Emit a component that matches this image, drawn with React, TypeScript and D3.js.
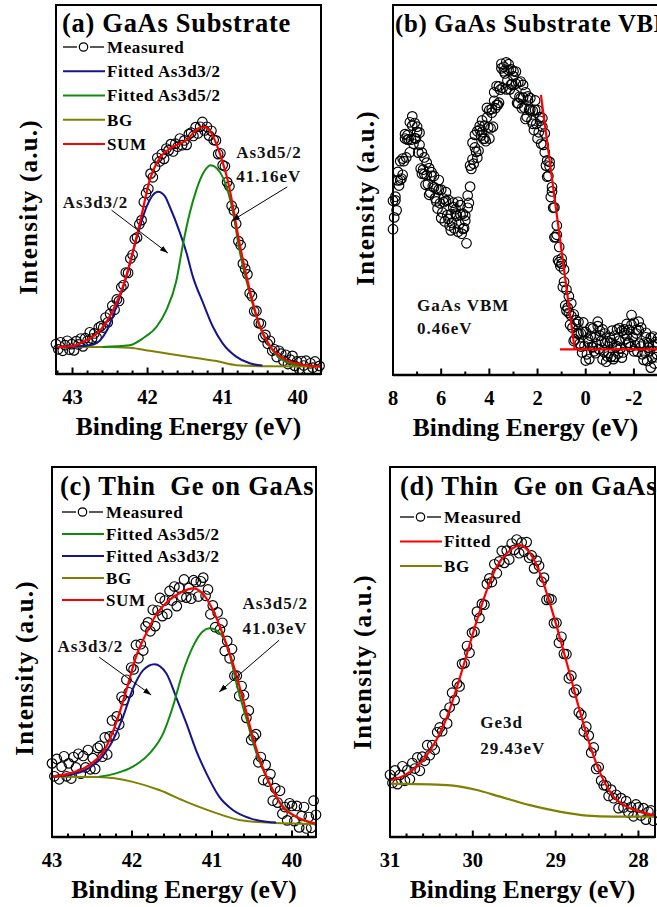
import React from "react";
import * as d3 from "d3";

type Pt = [number, number];

const FONT = "'Liberation Serif', 'Times New Roman', Times, serif";
const RED = "#ff0000";
const BLUE = "#14148c";
const GREEN = "#0f8a0f";
const OLIVE = "#808000";
const INK = "#111111";

// ---------- (a) GaAs substrate, As 3d core level ----------
const aTicks = [43, 42, 41, 40];
const aStart = 43.22;
const aStep = 0.03;
const aMeasured = [
  8.1, 6.7, 8.6, 6.3, 7.8, 9.0, 6.6, 8.1, 6.4, 8.9,
  8.0, 9.6, 7.5, 9.7, 9.0, 11.3, 9.6, 11.0, 9.9, 12.6,
  13.0, 12.6, 15.3, 14.0, 16.3, 18.5, 17.4, 20.2, 19.8, 23.5,
  24.1, 27.5, 27.4, 31.3, 32.3, 36.6, 37.0, 40.6, 41.7, 46.6,
  49.0, 50.2, 54.3, 53.3, 56.1, 58.6, 57.6, 59.6, 58.3, 61.1,
  60.6, 62.3, 60.3, 62.4, 61.6, 63.8, 62.0, 63.3, 62.1, 65.0,
  65.4, 64.5, 66.9, 65.2, 67.0, 68.3, 66.0, 67.0, 64.6, 65.9,
  63.4, 63.3, 59.6, 59.8, 56.6, 56.3, 52.0, 50.9, 45.6, 44.3,
  40.7, 36.0, 34.9, 29.9, 28.5, 27.0, 21.9, 21.1, 17.0, 17.1,
  13.8, 13.6, 10.0, 10.6, 8.2, 9.0, 6.3, 6.7, 4.6, 6.3,
  5.5, 3.6, 5.2, 2.7, 3.9, 4.9, 2.2, 3.4, 1.3, 3.5,
  2.3, 3.6, 1.2, 2.9, 1.7, 3.4, 1.2, 2.2,
];
const aPeak52 = 41.16;
const aSum: Pt[] = [
  [43.22, 7.3], [43.0, 7.6], [42.86, 8.7], [42.63, 11.9], [42.46, 17.3],
  [42.33, 23.6], [42.2, 32.8], [42.1, 41.2], [41.97, 52.6], [41.84, 58.5],
  [41.71, 61.0], [41.48, 63.4], [41.31, 66.7], [41.24, 66.9], [41.17, 65.9],
  [41.04, 59.9], [40.91, 50.4], [40.86, 45.0], [40.78, 36.0], [40.64, 22.8],
  [40.51, 13.3], [40.38, 7.9], [40.2, 4.3], [39.98, 2.7], [39.7, 2.0],
];
const aAs3d32: Pt[] = [
  [43.22, 7.3], [43.0, 7.4], [42.72, 8.0], [42.55, 11.5], [42.41, 18.5],
  [42.28, 26.5], [42.15, 36.5], [42.01, 45.5], [41.93, 48.5], [41.86, 49.4],
  [41.77, 48.2], [41.71, 45.6], [41.57, 38.3], [41.48, 32.7], [41.4, 26.6],
  [41.26, 19.2], [41.13, 12.8], [41.0, 8.3], [40.82, 4.7], [40.64, 2.9],
  [40.47, 2.3],
];
const aAs3d52: Pt[] = [
  [42.6, 7.35], [42.24, 7.8], [42.06, 9.7], [41.88, 12.8], [41.75, 17.3],
  [41.62, 25.0], [41.53, 35.0], [41.44, 43.5], [41.35, 49.9], [41.26, 54.4],
  [aPeak52, 56.6], [41.04, 54.8], [40.95, 50.8], [40.86, 43.6], [40.78, 34.0],
  [40.64, 22.0], [40.51, 13.0], [40.38, 7.7], [40.24, 4.3], [40.11, 2.9],
  [39.98, 2.4],
];
const aBG: Pt[] = [
  [43.22, 7.3], [42.55, 7.3], [42.24, 7.1], [41.97, 6.3], [41.53, 4.9],
  [41.08, 3.5], [40.82, 2.4], [40.42, 2.1], [39.7, 2.0],
];

// ---------- (b) GaAs substrate, valence band (two sweeps) ----------
const bTicks = [8, 6, 4, 2, 0, -2];
const bStart = 8;
const bStep = 0.05;
const bMeasured = [
  47.1, 42.6, 47.2, 44.5, 52.6, 51.2, 57.8, 53.1, 58.5, 57.8,
  63.9, 58.8, 64.8, 63.7, 68.3, 63.6, 67.4, 62.5, 68.1, 63.9,
  67.1, 60.1, 62.2, 55.8, 60.1, 55.5, 58.8, 51.4, 54.0, 51.6,
  55.9, 49.3, 53.8, 51.0, 53.8, 47.8, 50.4, 45.0, 50.1, 46.4,
  50.1, 43.9, 46.7, 41.5, 47.1, 43.2, 47.3, 40.4, 43.5, 41.1,
  45.4, 39.6, 44.8, 43.0, 46.8, 40.8, 43.4, 38.2, 43.6, 39.7,
  43.1, 35.6, 45.2, 46.5, 56.6, 55.7, 62.8, 57.1, 61.5, 60.3,
  65.9, 60.6, 66.3, 64.7, 68.8, 63.8, 67.4, 63.2, 69.6, 66.9,
  71.6, 66.7, 70.9, 67.1, 74.1, 72.1, 78.1, 73.0, 78.0, 77.1,
  82.9, 77.6, 83.3, 81.5, 84.5, 79.6, 82.4, 77.2, 82.6, 78.7,
  82.1, 75.9, 78.7, 73.5, 79.1, 75.2, 79.3, 72.1, 75.0, 72.3,
  76.4, 69.8, 74.3, 71.7, 74.8, 68.8, 71.4, 66.2, 71.6, 67.9,
  71.6, 65.6, 68.7, 62.5, 67.1, 62.2, 65.3, 56.6, 58.0, 53.8,
  56.4, 48.1, 50.8, 45.2, 45.3, 37.3, 37.9, 31.0, 34.6, 29.4,
  31.5, 23.8, 25.2, 18.8, 23.1, 18.2, 21.3, 13.6, 16.0, 12.8,
  16.4, 9.6, 13.8, 11.2, 14.3, 8.5, 11.2, 6.1, 11.6, 7.9,
  11.6, 5.6, 8.8, 4.3, 10.6, 7.6, 12.6, 6.4, 10.3, 8.3,
  13.2, 7.0, 11.8, 9.2, 12.3, 6.2, 8.7, 3.6, 9.1, 5.9,
  10.1, 4.9, 8.7, 4.3, 10.6, 7.5, 12.3, 5.8, 9.3, 7.2,
  11.9, 6.1, 11.3, 9.7, 13.8, 8.7, 12.2, 7.6, 13.6, 10.2,
  14.1, 8.1, 11.2, 6.3, 12.1, 8.5, 12.8, 5.6, 8.5, 6.0,
  10.2, 3.8, 8.6, 6.5, 10.1, 4.7, 7.9, 3.1, 8.9, 5.7,
  9.9,
];
const bStart2 = 8;
const bStep2 = 0.1;
const bMeasured2 = [
  39.4, 48.2, 54.9, 52.7, 54.1, 65.1, 63.6, 60.2, 69.9, 64.0,
  65.7, 65.5, 54.4, 54.3, 57.4, 48.7, 54.8, 50.7, 46.9, 52.7,
  42.4, 47.7, 49.4, 42.2, 39.1, 46.6, 43.6, 38.7, 45.9, 39.5,
  41.7, 48.5, 50.9, 58.3, 64.9, 58.7, 67.3, 65.7, 63.9, 72.2,
  63.9, 71.9, 76.4, 73.0, 73.6, 84.1, 82.1, 77.2, 84.0, 78.5,
  80.7, 82.0, 73.4, 74.8, 78.4, 69.2, 75.3, 71.7, 67.9, 74.2,
  63.9, 69.7, 69.4, 60.2, 53.6, 57.6, 49.6, 37.2, 40.4, 30.5,
  30.1, 28.5, 17.4, 16.8, 19.4, 9.2, 14.8, 11.2, 7.7, 14.2,
  3.9, 9.8, 12.9, 7.5, 5.9, 14.4, 10.6, 4.2, 11.2, 5.0,
  8.7, 12.0, 4.9, 7.8, 12.7, 4.7, 12.3, 10.7, 8.7, 16.2,
  6.4, 12.2, 14.4, 7.7, 4.1, 11.4, 7.4, 2.0, 10.4, 4.8,
  8.5,
];
const bVBM = 0.46;
const bEdge: Pt[] = [[1.86, 75.7], [bVBM, 6.9]];
const bBase: Pt[] = [[1.07, 6.9], [-3.0, 6.9]];

// ---------- (c) thin Ge on GaAs, As 3d core level ----------
const cTicks = [43, 42, 41, 40];
const cStart = 43.0;
const cStep = 0.03;
const cMeasured = [
  19.9, 16.4, 21.1, 15.6, 19.0, 21.8, 16.4, 19.9, 15.8, 21.6,
  18.8, 22.5, 17.1, 21.9, 18.8, 23.5, 18.3, 21.3, 18.4, 24.1,
  24.6, 21.7, 26.9, 22.3, 27.2, 31.5, 27.5, 32.6, 30.4, 37.9,
  37.0, 42.5, 39.1, 45.8, 45.3, 51.9, 48.3, 52.1, 50.4, 56.9,
  58.0, 55.6, 61.4, 57.0, 61.2, 64.6, 59.7, 63.9, 60.3, 66.5,
  63.9, 67.7, 62.4, 67.4, 65.0, 69.6, 64.7, 67.3, 64.4, 69.4,
  68.9, 65.0, 69.1, 70.1, 65.2, 66.9, 60.2, 62.6, 56.7, 60.7,
  56.1, 57.9, 50.3, 53.0, 48.3, 50.8, 43.6, 43.6, 38.1, 40.8,
  38.3, 32.2, 34.2, 26.2, 27.1, 27.8, 20.2, 21.6, 15.4, 19.5,
  15.0, 17.0, 9.8, 13.2, 9.3, 12.5, 6.3, 8.1, 4.5, 9.1,
  8.4, 4.3, 8.4, 2.6, 5.7, 8.1, 2.3, 5.4, 2.5, 9.8,
  6.0,
];
const cPeak52 = 41.03;
const cSum: Pt[] = [
  [43.0, 16.3], [42.78, 17.2], [42.53, 19.5], [42.32, 24.4], [42.2, 30.7],
  [42.07, 39.7], [41.95, 48.7], [41.82, 55.1], [41.7, 60.0], [41.53, 64.1],
  [41.37, 66.3], [41.24, 67.2], [41.12, 65.9], [40.99, 61.4], [40.87, 55.1],
  [40.74, 47.0], [40.61, 37.0], [40.49, 27.1], [40.37, 19.0], [40.24, 12.7],
  [40.12, 8.2], [39.95, 5.5], [39.7, 3.6],
];
const cAs3d52: Pt[] = [
  [42.41, 16.3], [42.2, 17.2], [41.99, 19.0], [41.78, 22.6], [41.61, 28.0],
  [41.49, 35.2], [41.37, 44.2], [41.24, 51.4], [41.12, 55.5], [cPeak52, 56.4],
  [40.91, 55.3], [40.78, 49.5], [40.7, 42.0], [40.57, 32.0], [40.45, 23.0],
  [40.32, 16.2], [40.16, 9.6], [39.99, 6.0], [39.72, 3.6],
];
const cAs3d32: Pt[] = [
  [43.0, 16.3], [42.75, 16.9], [42.55, 18.5], [42.4, 21.0], [42.28, 24.5],
  [42.12, 32.0], [41.99, 40.0], [41.86, 45.1], [41.72, 46.7], [41.57, 44.2],
  [41.45, 37.9], [41.32, 30.7], [41.2, 23.5], [41.07, 17.2], [40.91, 10.9],
  [40.74, 7.3], [40.53, 5.1], [40.32, 4.1], [40.2, 3.9],
];
const cBG: Pt[] = [
  [43.0, 16.3], [42.41, 16.2], [41.99, 14.9], [41.66, 12.7], [41.32, 9.5],
  [40.99, 6.8], [40.66, 4.6], [40.32, 3.9], [39.7, 3.5],
];

// ---------- (d) thin Ge on GaAs, Ge 3d core level ----------
const dTicks = [31, 30, 29, 28];
const dStart = 31.0;
const dStep = 0.03;
const dMeasured = [
  16.8, 14.6, 18.0, 14.3, 16.8, 19.1, 15.2, 18.1, 15.6, 20.0,
  18.5, 21.5, 17.9, 21.7, 20.6, 24.8, 22.1, 24.8, 23.6, 28.3,
  29.6, 28.6, 33.2, 30.7, 35.0, 39.0, 37.0, 41.5, 40.7, 46.8,
  47.0, 51.6, 49.8, 55.2, 55.5, 60.9, 59.2, 63.0, 62.8, 68.4,
  69.9, 68.9, 73.7, 71.3, 74.5, 77.3, 74.1, 77.4, 75.0, 79.3,
  77.6, 80.4, 76.7, 79.6, 77.1, 79.7, 75.5, 76.1, 72.6, 74.7,
  73.3, 69.0, 70.1, 64.1, 64.4, 64.2, 57.8, 57.9, 52.5, 54.1,
  49.5, 49.4, 42.9, 43.6, 39.1, 39.8, 33.7, 33.0, 28.5, 29.8,
  27.4, 22.8, 24.2, 18.4, 18.9, 15.3, 14.0, 13.9, 11.1, 12.8,
  10.5, 11.4, 7.8, 10.5, 8.0, 9.7, 6.6, 8.1, 5.6, 8.8,
  8.0, 5.8, 7.8, 4.7, 6.8, 7.2, 4.4,
];
const dPeak = 29.43;
const dFit: Pt[] = [
  [31.0, 15.3], [30.8, 17.0], [30.6, 20.8], [30.44, 26.2], [30.31, 32.5],
  [30.19, 40.6], [30.07, 49.6], [29.95, 58.6], [29.83, 66.8], [29.71, 73.1],
  [29.57, 77.1], [dPeak, 78.9], [29.31, 76.7], [29.19, 71.3], [29.07, 63.2],
  [28.94, 53.2], [28.82, 43.3], [28.7, 33.4], [28.58, 24.4], [28.46, 17.2],
  [28.3, 10.9], [28.14, 8.2], [27.98, 6.8], [27.8, 5.9],
];
const dBG: Pt[] = [
  [31.0, 14.4], [30.31, 14.0], [29.95, 12.7], [29.67, 10.9], [29.31, 8.6],
  [28.94, 6.8], [28.62, 5.8], [28.3, 5.5], [27.8, 5.5],
];

// ---------- panel drawing ----------
interface Box { l: number; r: number; t: number; b: number; }
interface Sweep { start: number; step: number; values: number[]; }
interface Curve { data: Pt[]; color: string; width: number; linear?: boolean; }
interface LegendItem { label: string; color?: string; }
interface Note { text: string; at: Pt; }
interface Arrow { from: Pt; to: Pt; }

interface PanelProps {
  box: Box;
  xDomain: [number, number];
  ticks: number[];
  minorStep: number;
  sweeps: Sweep[];
  curves: Curve[];
  title: string;
  titleAt: [number, number];
  titleSize: number;
  legend: LegendItem[];
  legendAt: [number, number];
  legendGap: number;
  notes: Note[];
  arrows: Arrow[];
  yLabelCy: number;
}

function Panel(p: PanelProps) {
  const { box } = p;
  const x = d3.scaleLinear().domain(p.xDomain).range([box.l, box.r]);
  const y = d3.scaleLinear().domain([0, 100]).range([box.b, box.t]);
  const smooth = d3.line<Pt>().x((d) => x(d[0])).y((d) => y(d[1])).curve(d3.curveMonotoneX);
  const straight = d3.line<Pt>().x((d) => x(d[0])).y((d) => y(d[1]));

  const lo = Math.min(p.xDomain[0], p.xDomain[1]);
  const hi = Math.max(p.xDomain[0], p.xDomain[1]);
  const minors = d3
    .range(Math.ceil(lo / p.minorStep - 1e-6), Math.floor(hi / p.minorStep + 1e-6) + 1)
    .map((k) => +(k * p.minorStep).toFixed(4))
    .filter((v) => !p.ticks.some((t) => Math.abs(t - v) < 1e-6));

  const midX = (box.l + box.r) / 2;

  return (
    <g>
      {/* measured spectrum */}
      {p.sweeps.map((s, si) =>
        s.values.map((v, i) => (
          <circle key={si + "-" + i} cx={x(s.start - s.step * i)} cy={y(v)} r={4.8}
            fill="none" stroke="#000" strokeWidth={1.15} />
        ))
      )}
      {/* fitted components */}
      {p.curves.map((c, i) => (
        <path key={i} d={(c.linear ? straight : smooth)(c.data) || ""}
          fill="none" stroke={c.color} strokeWidth={c.width} />
      ))}
      {/* frame */}
      <rect x={box.l} y={box.t} width={box.r - box.l} height={box.b - box.t}
        fill="none" stroke="#000" strokeWidth={2} />
      <line x1={box.l} x2={box.r} y1={box.b} y2={box.b} stroke="#000" strokeWidth={2.6} />
      {/* ticks, pointing inward */}
      {p.ticks.map((t) => (
        <line key={"M" + t} x1={x(t)} x2={x(t)} y1={box.b} y2={box.b - 6.5} stroke="#000" strokeWidth={2} />
      ))}
      {minors.map((t) => (
        <line key={"m" + t} x1={x(t)} x2={x(t)} y1={box.b} y2={box.b - 3.5} stroke="#000" strokeWidth={2} />
      ))}
      {p.ticks.map((t) => (
        <text key={"L" + t} x={x(t)} y={box.b + 30} textAnchor="middle"
          fontFamily={FONT} fontWeight={700} fontSize={20.5} fill="#000">
          {String(t)}
        </text>
      ))}
      <text x={midX} y={box.b + 61} textAnchor="middle" fontFamily={FONT} fontWeight={700}
        fontSize={25.5} fill="#000">
        Binding Energy (eV)
      </text>
      <text transform={`translate(${box.l - 19},${p.yLabelCy}) rotate(-90)`} textAnchor="middle"
        fontFamily={FONT} fontWeight={700} fontSize={25} letterSpacing={1.2} fill="#000">
        Intensity (a.u.)
      </text>
      {/* panel title */}
      <text x={box.l + p.titleAt[0]} y={box.t + p.titleAt[1]} fontFamily={FONT} fontWeight={700}
        fontSize={p.titleSize} letterSpacing={0.7} fill="#000" style={{ whiteSpace: "pre" }}>
        {p.title}
      </text>
      {/* legend */}
      {p.legend.map((it, i) => {
        const lx = box.l + p.legendAt[0];
        const ly = box.t + p.legendAt[1] + i * p.legendGap;
        return (
          <g key={"lg" + i}>
            {it.color ? (
              <line x1={lx} x2={lx + 42} y1={ly} y2={ly} stroke={it.color} strokeWidth={2.2} />
            ) : (
              <g>
                <line x1={lx} x2={lx + 14} y1={ly} y2={ly} stroke="#000" strokeWidth={1.3} />
                <circle cx={lx + 20.5} cy={ly} r={4.2} fill="none" stroke="#000" strokeWidth={1.2} />
                <line x1={lx + 27} x2={lx + 41} y1={ly} y2={ly} stroke="#000" strokeWidth={1.3} />
              </g>
            )}
            <text x={lx + 44} y={ly} dy="0.34em" fontFamily={FONT} fontWeight={700} fontSize={17}
              letterSpacing={0.6} fill="#000">
              {it.label}
            </text>
          </g>
        );
      })}
      {/* annotations */}
      {p.notes.map((n, i) => (
        <text key={"n" + i} x={x(n.at[0])} y={y(n.at[1])} dy="0.35em" fontFamily={FONT}
          fontWeight={700} fontSize={17} letterSpacing={1} fill={INK}>
          {n.text}
        </text>
      ))}
      {p.arrows.map((a, i) => (
        <line key={"a" + i} x1={x(a.from[0])} y1={y(a.from[1])} x2={x(a.to[0])} y2={y(a.to[1])}
          stroke="#000" strokeWidth={1} markerEnd="url(#arrowhead)" />
      ))}
    </g>
  );
}

export default function App() {
  return (
    <svg width={657} height={907} viewBox="0 0 657 907"
      style={{ position: "absolute", left: 0, top: 0, background: "#fff" }}>
      <defs>
        <marker id="arrowhead" viewBox="0 0 10 10" refX={10} refY={5} markerWidth={8} markerHeight={8}
          markerUnits="userSpaceOnUse" orient="auto">
          <path d="M0,1.5 L10,5 L0,8.5 z" fill="#000" />
        </marker>
      </defs>
      <rect x={0} y={0} width={657} height={907} fill="#fff" />

      <Panel
        box={{ l: 56, r: 321, t: 5, b: 374 }}
        xDomain={[43.22, 39.69]}
        ticks={aTicks}
        minorStep={0.2}
        sweeps={[{ start: aStart, step: aStep, values: aMeasured }]}
        curves={[
          { data: aBG, color: OLIVE, width: 2 },
          { data: aAs3d32, color: BLUE, width: 2 },
          { data: aAs3d52, color: GREEN, width: 2 },
          { data: aSum, color: RED, width: 2.2 },
        ]}
        title="(a) GaAs Substrate"
        titleAt={[6, 27]}
        titleSize={26.5}
        legend={[
          { label: "Measured" },
          { label: "Fitted As3d3/2", color: BLUE },
          { label: "Fitted As3d5/2", color: GREEN },
          { label: "BG", color: OLIVE },
          { label: "SUM", color: RED },
        ]}
        legendAt={[7, 42]}
        legendGap={24.25}
        notes={[
          { text: "As3d5/2", at: [40.82, 60.2] },
          { text: `${aPeak52.toFixed(2)}eV`, at: [40.82, 53.7] },
          { text: "As3d3/2", at: [43.13, 46.6] },
        ]}
        arrows={[
          { from: [40.14, 50.7], to: [40.88, 41.5] },
          { from: [42.48, 44.4], to: [41.73, 32.8] },
        ]}
        yLabelCy={207}
      />

      <Panel
        box={{ l: 393, r: 658, t: 5, b: 375 }}
        xDomain={[8, -3]}
        ticks={bTicks}
        minorStep={1}
        sweeps={[
          { start: bStart, step: bStep, values: bMeasured },
          { start: bStart2, step: bStep2, values: bMeasured2 },
        ]}
        curves={[
          { data: bEdge, color: RED, width: 2.2, linear: true },
          { data: bBase, color: RED, width: 2.2, linear: true },
        ]}
        title="(b) GaAs Substrate VBM"
        titleAt={[2, 27]}
        titleSize={24.8}
        legend={[]}
        legendAt={[0, 0]}
        legendGap={0}
        notes={[
          { text: "GaAs VBM", at: [7.0, 18.9] },
          { text: `${bVBM.toFixed(2)}eV`, at: [7.0, 12.7] },
        ]}
        arrows={[]}
        yLabelCy={198}
      />

      <Panel
        box={{ l: 52, r: 316, t: 467, b: 837 }}
        xDomain={[43, 39.7]}
        ticks={cTicks}
        minorStep={0.2}
        sweeps={[{ start: cStart, step: cStep, values: cMeasured }]}
        curves={[
          { data: cBG, color: OLIVE, width: 2 },
          { data: cAs3d32, color: BLUE, width: 2 },
          { data: cAs3d52, color: GREEN, width: 2 },
          { data: cSum, color: RED, width: 2.2 },
        ]}
        title="(c) Thin  Ge on GaAs"
        titleAt={[8, 28]}
        titleSize={26.5}
        legend={[
          { label: "Measured" },
          { label: "Fitted As3d5/2", color: GREEN },
          { label: "Fitted As3d3/2", color: BLUE },
          { label: "BG", color: OLIVE },
          { label: "SUM", color: RED },
        ]}
        legendAt={[10, 45]}
        legendGap={22}
        notes={[
          { text: "As3d5/2", at: [40.62, 63.2] },
          { text: `${cPeak52.toFixed(2)}eV`, at: [40.62, 56.5] },
          { text: "As3d3/2", at: [42.93, 51.6] },
        ]}
        arrows={[
          { from: [40.16, 53.2], to: [40.91, 39.2] },
          { from: [42.41, 48.6], to: [41.76, 38.4] },
        ]}
        yLabelCy={668}
      />

      <Panel
        box={{ l: 390, r: 655, t: 467, b: 837 }}
        xDomain={[31, 27.8]}
        ticks={dTicks}
        minorStep={0.2}
        sweeps={[{ start: dStart, step: dStep, values: dMeasured }]}
        curves={[
          { data: dBG, color: OLIVE, width: 2.2 },
          { data: dFit, color: RED, width: 2.2 },
        ]}
        title="(d) Thin  Ge on GaAs"
        titleAt={[10, 28]}
        titleSize={26.5}
        legend={[
          { label: "Measured" },
          { label: "Fitted", color: RED },
          { label: "BG", color: OLIVE },
        ]}
        legendAt={[10, 50]}
        legendGap={24.5}
        notes={[
          { text: "Ge3d", at: [29.91, 31.1] },
          { text: `${dPeak.toFixed(2)}eV`, at: [29.91, 24.1] },
        ]}
        arrows={[]}
        yLabelCy={662}
      />
    </svg>
  );
}
